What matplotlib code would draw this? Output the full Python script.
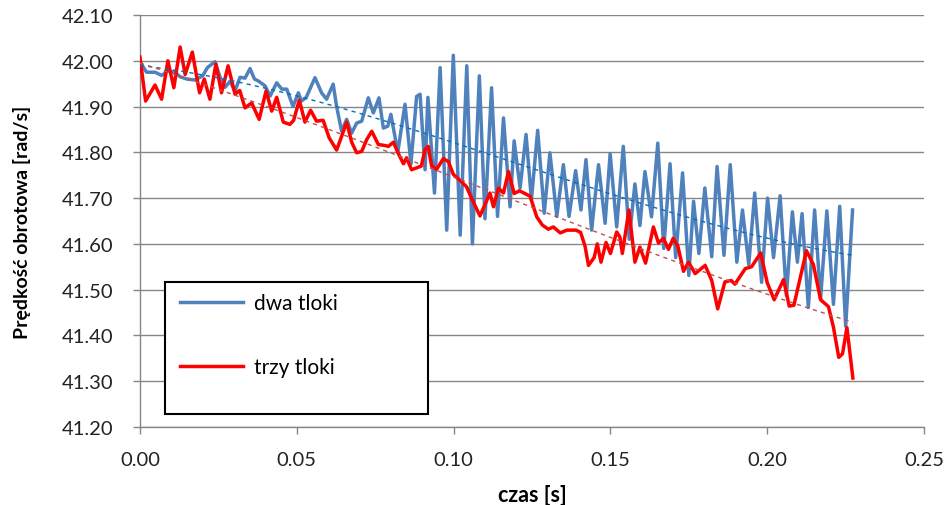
import numpy as np
import matplotlib
matplotlib.use('Agg')
import matplotlib.pyplot as plt
from matplotlib.patches import Rectangle

plt.rcParams['font.family'] = ['Lato', 'DejaVu Sans']

# czas [s] i prędkość [rad/s]
t_dwa = [0.0000, 0.0021, 0.0048, 0.0069, 0.0090, 0.0112, 0.0128, 0.0150, 0.0175, 0.0200,
         0.0215, 0.0239, 0.0255, 0.0271, 0.0287, 0.0303, 0.0319, 0.0335, 0.0351, 0.0365,
         0.0377, 0.0399, 0.0415, 0.0436, 0.0452, 0.0468, 0.0488, 0.0505, 0.0515, 0.0530,
         0.0558, 0.0579, 0.0595, 0.0616, 0.0627, 0.0643, 0.0659, 0.0675, 0.0691, 0.0707,
         0.0728, 0.0744, 0.0762, 0.0776, 0.0790, 0.0800, 0.0822, 0.0845, 0.0864, 0.0882,
         0.0893, 0.0909, 0.0918, 0.0939, 0.0957, 0.0978, 0.0999, 0.1021, 0.1042, 0.1060,
         0.1082, 0.1100, 0.1121, 0.1140, 0.1159, 0.1180, 0.1193, 0.1212, 0.1231, 0.1248,
         0.1268, 0.1289, 0.1307, 0.1329, 0.1350, 0.1368, 0.1389, 0.1406, 0.1422, 0.1440,
         0.1462, 0.1483, 0.1499, 0.1520, 0.1541, 0.1560, 0.1578, 0.1594, 0.1610, 0.1631,
         0.1651, 0.1670, 0.1690, 0.1708, 0.1730, 0.1750, 0.1765, 0.1782, 0.1801, 0.1823,
         0.1840, 0.1862, 0.1882, 0.1903, 0.1921, 0.1941, 0.1960, 0.1982, 0.2001, 0.2020,
         0.2041, 0.2061, 0.2080, 0.2096, 0.2111, 0.2131, 0.2151, 0.2170, 0.2190, 0.2211,
         0.2231, 0.2250, 0.2272]
w_dwa = [41.997, 41.975, 41.975, 41.968, 41.978, 41.975, 41.965, 41.960, 41.958, 41.967,
         41.985, 41.998, 41.965, 41.942, 41.955, 41.934, 41.964, 41.962, 41.983, 41.960,
         41.956, 41.945, 41.923, 41.952, 41.938, 41.938, 41.900, 41.930, 41.912, 41.920,
         41.963, 41.930, 41.916, 41.949, 41.900, 41.846, 41.872, 41.842, 41.864, 41.868,
         41.919, 41.886, 41.919, 41.853, 41.857, 41.883, 41.800, 41.905, 41.775, 41.922,
         41.927, 41.762, 41.920, 41.711, 41.985, 41.630, 42.012, 41.619, 41.989, 41.600,
         41.967, 41.655, 41.941, 41.660, 41.875, 41.681, 41.825, 41.722, 41.839, 41.696,
         41.848, 41.667, 41.799, 41.660, 41.773, 41.660, 41.760, 41.674, 41.784, 41.630,
         41.773, 41.645, 41.797, 41.637, 41.813, 41.610, 41.731, 41.640, 41.758, 41.659,
         41.820, 41.590, 41.775, 41.570, 41.755, 41.531, 41.693, 41.579, 41.722, 41.572,
         41.769, 41.575, 41.773, 41.560, 41.674, 41.555, 41.711, 41.516, 41.700, 41.570,
         41.705, 41.487, 41.670, 41.560, 41.666, 41.461, 41.674, 41.480, 41.672, 41.468,
         41.682, 41.420, 41.674]

t_trzy = [0.0000, 0.0018, 0.0048, 0.0069, 0.0089, 0.0108, 0.0128, 0.0144, 0.0167, 0.0190,
          0.0205, 0.0223, 0.0242, 0.0260, 0.0281, 0.0303, 0.0318, 0.0335, 0.0356, 0.0380,
          0.0402, 0.0420, 0.0436, 0.0457, 0.0478, 0.0490, 0.0508, 0.0526, 0.0544, 0.0563,
          0.0584, 0.0603, 0.0627, 0.0643, 0.0659, 0.0675, 0.0691, 0.0707, 0.0723, 0.0739,
          0.0760, 0.0780, 0.0792, 0.0808, 0.0824, 0.0840, 0.0850, 0.0866, 0.0882, 0.0897,
          0.0909, 0.0919, 0.0930, 0.0946, 0.0967, 0.0983, 0.0999, 0.1021, 0.1041, 0.1057,
          0.1084, 0.1100, 0.1116, 0.1127, 0.1143, 0.1159, 0.1175, 0.1193, 0.1210, 0.1244,
          0.1265, 0.1283, 0.1302, 0.1318, 0.1340, 0.1361, 0.1390, 0.1405, 0.1419, 0.1430,
          0.1448, 0.1458, 0.1470, 0.1486, 0.1500, 0.1520, 0.1530, 0.1538, 0.1559, 0.1578,
          0.1594, 0.1612, 0.1637, 0.1653, 0.1669, 0.1685, 0.1700, 0.1715, 0.1733, 0.1749,
          0.1770, 0.1802, 0.1823, 0.1842, 0.1865, 0.1885, 0.1897, 0.1930, 0.1950, 0.1979,
          0.2000, 0.2022, 0.2052, 0.2070, 0.2085, 0.2125, 0.2147, 0.2170, 0.2195, 0.2211,
          0.2228, 0.2240, 0.2254, 0.2273]
w_trzy = [42.008, 41.912, 41.947, 41.916, 42.000, 41.941, 42.030, 41.970, 42.019, 41.930,
          41.960, 41.916, 41.993, 41.930, 41.989, 41.927, 41.935, 41.897, 41.908, 41.872,
          41.934, 41.890, 41.920, 41.866, 41.861, 41.870, 41.914, 41.866, 41.892, 41.868,
          41.870, 41.832, 41.805, 41.835, 41.866, 41.822, 41.799, 41.802, 41.828, 41.846,
          41.817, 41.815, 41.813, 41.822, 41.797, 41.775, 41.788, 41.762, 41.766, 41.770,
          41.806, 41.813, 41.770, 41.763, 41.786, 41.780, 41.752, 41.738, 41.725, 41.700,
          41.661, 41.686, 41.711, 41.681, 41.722, 41.711, 41.758, 41.710, 41.716, 41.704,
          41.659, 41.641, 41.632, 41.637, 41.624, 41.630, 41.630, 41.625, 41.595, 41.553,
          41.570, 41.600, 41.560, 41.603, 41.579, 41.626, 41.615, 41.579, 41.674, 41.560,
          41.593, 41.558, 41.637, 41.602, 41.612, 41.588, 41.612, 41.595, 41.540, 41.560,
          41.535, 41.553, 41.520, 41.458, 41.517, 41.520, 41.512, 41.546, 41.550, 41.580,
          41.515, 41.478, 41.522, 41.464, 41.466, 41.585, 41.555, 41.478, 41.463, 41.418,
          41.352, 41.360, 41.417, 41.307]

nazwy = ['dwa tloki', 'trzy tloki']
kolory = ['#4F81BD', '#FF0000']
kolory_trend = ['#0070C0', '#C0504D']

fig = plt.figure(figsize=(9.47, 5.06), dpi=100)
ax = fig.add_axes([0.1478, 0.1542, 0.828, 0.8142])

for t, w, nazwa, kol, kt in zip([t_dwa, t_trzy], [w_dwa, w_trzy], nazwy, kolory, kolory_trend):
    t = np.array(t)
    w = np.array(w)
    ax.plot(t, w, color=kol, lw=2.5, label=nazwa, zorder=3, solid_joinstyle='round')
    # linia trendu - wielomian 3 stopnia
    p = np.polyfit(t, w, 3)
    tt = np.linspace(t[0], t[-1], 200)
    ax.plot(tt, np.polyval(p, tt), color=kt, lw=1.0, ls=(0, (3, 3)), zorder=4)

ax.set_xlim(0, 0.25)
ax.set_ylim(41.20, 42.10)
ax.set_xticks(np.arange(0, 0.2501, 0.05))
ax.set_yticks(np.arange(41.20, 42.1001, 0.10))
ax.xaxis.set_major_formatter(matplotlib.ticker.FormatStrFormatter('%.2f'))
ax.yaxis.set_major_formatter(matplotlib.ticker.FormatStrFormatter('%.2f'))
ax.tick_params(labelsize=14.5, colors='#222222', length=5, width=1, color='#868686')
ax.tick_params(axis='x', pad=12)
ax.tick_params(axis='y', pad=14)
ax.grid(axis='y', color='#868686', lw=1)
ax.set_axisbelow(True)
for s in ['top', 'right']:
    ax.spines[s].set_visible(False)
for s in ['left', 'bottom']:
    ax.spines[s].set_color('#868686')
    ax.spines[s].set_linewidth(1)

ax.set_xlabel('czas [s]', fontsize=15.5, fontweight='bold', labelpad=12)
ax.set_ylabel('Prędkość obrotowa [rad/s]', fontsize=14, fontweight='bold', labelpad=22)

# ramka legendy
ax.add_patch(Rectangle((0.032, 0.0316), 0.335, 0.3204, transform=ax.transAxes,
                       fill=True, facecolor='white', edgecolor='black', lw=1.5, zorder=5))
leg = ax.legend(loc='upper left', bbox_to_anchor=(0.037, 0.352), frameon=False,
                fontsize=15, handlelength=3.0, handletextpad=0.55, labelspacing=2.1,
                borderpad=0.55, borderaxespad=0)
leg.set_zorder(6)

plt.savefig('out.png', dpi=100)
